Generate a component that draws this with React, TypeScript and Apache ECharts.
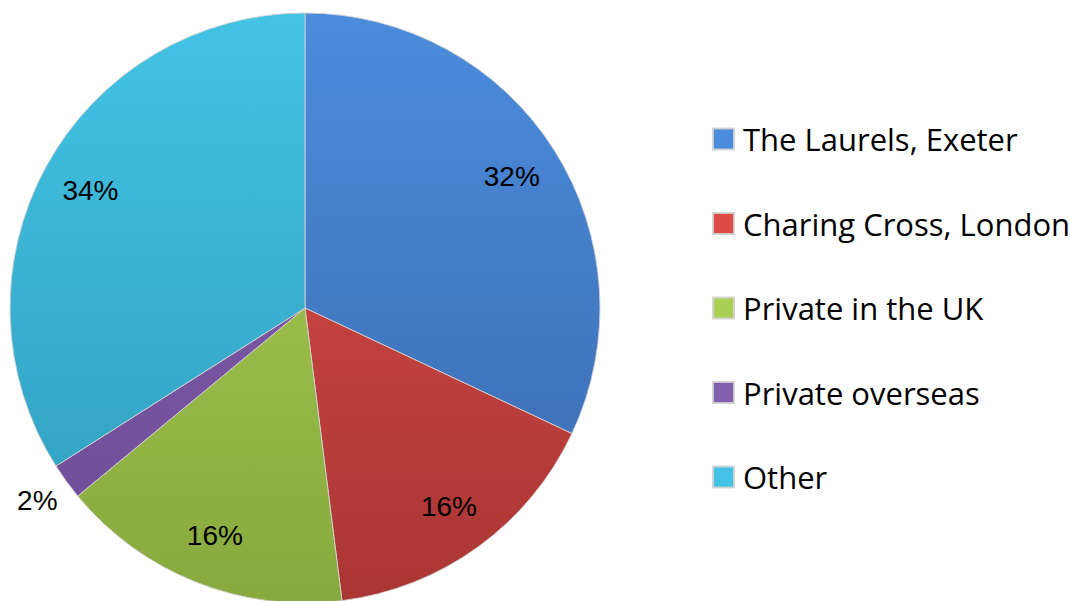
import React, { useEffect, useRef } from "react";
import * as echarts from "echarts";

const categories = ["The Laurels, Exeter", "Charing Cross, London", "Private in the UK", "Private overseas", "Other"];
const values = [32, 16, 16, 2, 34];
const topColors = ["#4B8CDC", "#DE4C49", "#AACF55", "#8161AE", "#43C3E4"];
const bottomColors = ["#3A69AC", "#A93634", "#88A93E", "#6E4B96", "#2F9CBC"];

const CX = 305;
const CY = 308;
const R = 295;

export default function App() {
  const ref = useRef<HTMLDivElement>(null);
  useEffect(() => {
    document.body.style.margin = "0";
    const chart = echarts.init(ref.current!, null, { renderer: "svg" });
    const grad = (i: number) => ({
      type: "linear",
      x: 0,
      y: CY - R,
      x2: 0,
      y2: CY + R,
      global: true,
      colorStops: [
        { offset: 0, color: topColors[i] },
        { offset: 1, color: bottomColors[i] },
      ],
    });
    const pieData = categories.map((name, i) => ({
      name,
      value: values[i],
      itemStyle: { color: grad(i) },
    }));
    const labelData = categories.map((name, i) => {
      const item: any = { name, value: values[i] };
      if (values[i] < 5) {
        item.label = {
          position: "outside",
          alignTo: "none",
          overflow: "none",
          distanceToLabelLine: 2,
          offset: [15, 6],
        };
        item.labelLine = { show: false, length: 22, length2: 4 };
      }
      return item;
    });
    chart.setOption({
      animation: false,
      legend: {
        orient: "vertical",
        left: 707,
        top: 118,
        itemWidth: 21,
        itemHeight: 21,
        itemGap: 52.5,
        icon: "rect",
        selectedMode: false,
        data: categories,
        textStyle: {
          fontFamily: "Open Sans",
          fontSize: 31,
          color: "#000",
          lineHeight: 32,
          padding: [0, 0, 0, 4],
        },
      },
      series: [
        {
          type: "pie",
          center: [CX, CY],
          radius: [0, R],
          startAngle: 90,
          clockwise: true,
          silent: true,
          label: { show: false },
          labelLine: { show: false },
          itemStyle: { borderColor: "rgba(210,210,210,0.9)", borderWidth: 1 },
          data: pieData,
        },
        {
          type: "pie",
          center: [CX, CY],
          radius: [R * 0.64, R],
          startAngle: 90,
          clockwise: true,
          silent: true,
          itemStyle: { color: "rgba(0,0,0,0)" },
          label: {
            show: true,
            position: "inside",
            formatter: "{c}%",
            fontFamily: "Liberation Sans",
            fontSize: 28,
            color: "#000",
          },
          labelLine: { show: false },
          data: labelData,
        },
      ],
    });
    return () => chart.dispose();
  }, []);
  return <div ref={ref} style={{ width: 1070, height: 601 }} />;
}
